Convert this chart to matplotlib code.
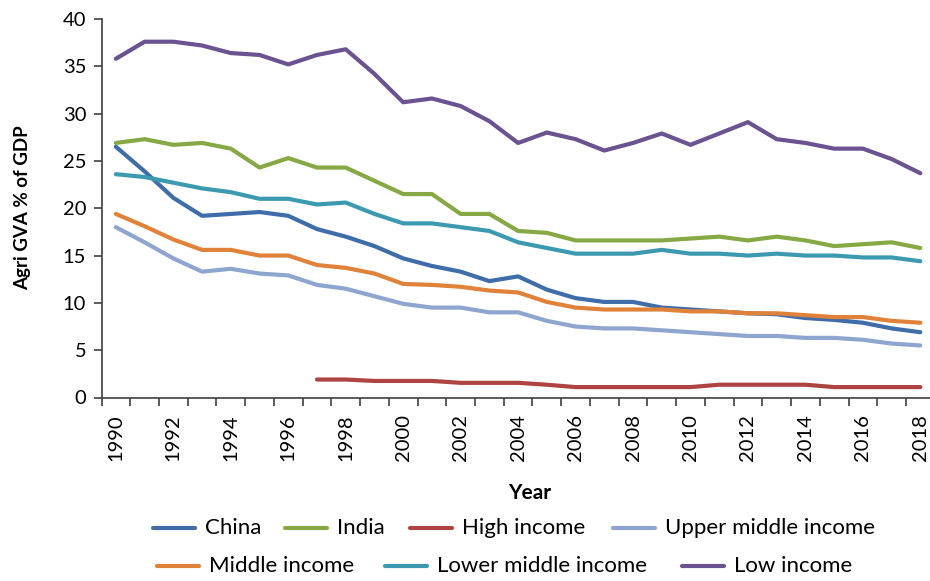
import numpy as np
import matplotlib
matplotlib.use('Agg')
import matplotlib.pyplot as plt
from matplotlib.lines import Line2D

# Data (Agri GVA as % of GDP)
years = list(range(1990, 2019))

china = [26.5, 23.9, 21.1, 19.2, 19.4, 19.6, 19.2, 17.8, 17.0, 16.0,
         14.7, 13.9, 13.3, 12.3, 12.8, 11.4, 10.5, 10.1, 10.1, 9.5,
         9.3, 9.1, 8.9, 8.8, 8.4, 8.2, 7.9, 7.3, 6.9]
india = [26.9, 27.3, 26.7, 26.9, 26.3, 24.3, 25.3, 24.3, 24.3, 22.9,
         21.5, 21.5, 19.4, 19.4, 17.6, 17.4, 16.6, 16.6, 16.6, 16.6,
         16.8, 17.0, 16.6, 17.0, 16.6, 16.0, 16.2, 16.4, 15.8]
high_income = [np.nan] * 7 + [1.9, 1.9, 1.75, 1.75, 1.75, 1.55, 1.55, 1.55, 1.35,
                              1.1, 1.1, 1.1, 1.1, 1.1, 1.35, 1.35, 1.35, 1.35, 1.1,
                              1.1, 1.1, 1.1]
upper_middle = [18.0, 16.4, 14.7, 13.3, 13.6, 13.1, 12.9, 11.9, 11.5, 10.7,
                9.9, 9.5, 9.5, 9.0, 9.0, 8.1, 7.5, 7.3, 7.3, 7.1,
                6.9, 6.7, 6.5, 6.5, 6.3, 6.3, 6.1, 5.7, 5.5]
middle_income = [19.4, 18.1, 16.7, 15.6, 15.6, 15.0, 15.0, 14.0, 13.7, 13.1,
                 12.0, 11.9, 11.7, 11.3, 11.1, 10.1, 9.5, 9.3, 9.3, 9.3,
                 9.1, 9.1, 8.9, 8.9, 8.7, 8.5, 8.5, 8.1, 7.9]
lower_middle = [23.6, 23.3, 22.7, 22.1, 21.7, 21.0, 21.0, 20.4, 20.6, 19.4,
                18.4, 18.4, 18.0, 17.6, 16.4, 15.8, 15.2, 15.2, 15.2, 15.6,
                15.2, 15.2, 15.0, 15.2, 15.0, 15.0, 14.8, 14.8, 14.4]
low_income = [35.8, 37.6, 37.6, 37.2, 36.4, 36.2, 35.2, 36.2, 36.8, 34.2,
              31.2, 31.6, 30.8, 29.2, 26.9, 28.0, 27.3, 26.1, 26.9, 27.9,
              26.7, 27.9, 29.1, 27.3, 26.9, 26.3, 26.3, 25.2, 23.7]

series = [
    ('China', china, '#3F6DAA'),
    ('India', india, '#86A845'),
    ('High income', high_income, '#AE4442'),
    ('Upper middle income', upper_middle, '#8DA5CF'),
    ('Middle income', middle_income, '#E0823A'),
    ('Lower middle income', lower_middle, '#3C9AB0'),
    ('Low income', low_income, '#6B5290'),
]

plt.rcParams['font.family'] = ['Lato', 'DejaVu Sans']

fig = plt.figure(figsize=(9.3, 5.81), dpi=100)
ax = fig.add_axes([101.5 / 930, 1 - 397.5 / 581, (934.7 - 101.5) / 930, (397.5 - 19) / 581])

for name, vals, col in series:
    ax.plot(years, vals, color=col, lw=3.0, solid_capstyle='round',
            solid_joinstyle='round', label=name)

ax.set_xlim(1989.5, 2018.5)
ax.set_ylim(0, 40)
ax.set_yticks(range(0, 41, 5))
ax.set_xticks(range(1990, 2019, 2))
ax.set_xticks(np.arange(1989.5, 2018.6, 1), minor=True)
ax.tick_params(axis='x', which='major', length=0, labelrotation=90, labelsize=14.5, pad=12)
ax.tick_params(axis='x', which='minor', length=6, width=1.2, color='#404040', direction='out')
ax.tick_params(axis='y', length=6, width=1.2, color='#404040', labelsize=14.5, pad=5)
for s in ['top', 'right']:
    ax.spines[s].set_visible(False)
for s in ['left', 'bottom']:
    ax.spines[s].set_color('#404040')
    ax.spines[s].set_linewidth(1.2)

fig.text(23 / 930, 1 - 208 / 581, 'Agri GVA % of GDP', rotation=90, ha='center', va='center',
         fontsize=13.5, fontweight='bold')
fig.text(530 / 930, 1 - 493 / 581, 'Year', ha='center', va='center', fontsize=15, fontweight='bold')

# legend laid out by hand in two rows like the original
leg_pos = [(153, 528), (285, 528), (410, 528), (613, 528),
           (157, 566), (385, 566), (682, 566)]
for (name, vals, col), (lx, ly) in zip(series, leg_pos):
    fy = 1 - ly / 581
    fig.add_artist(Line2D([lx / 930, (lx + 42) / 930], [fy, fy], color=col, lw=3.0,
                          transform=fig.transFigure, solid_capstyle='round'))
    fig.text((lx + 52) / 930, fy, name, ha='left', va='center', fontsize=16)

fig.savefig('out.png', dpi=100)
